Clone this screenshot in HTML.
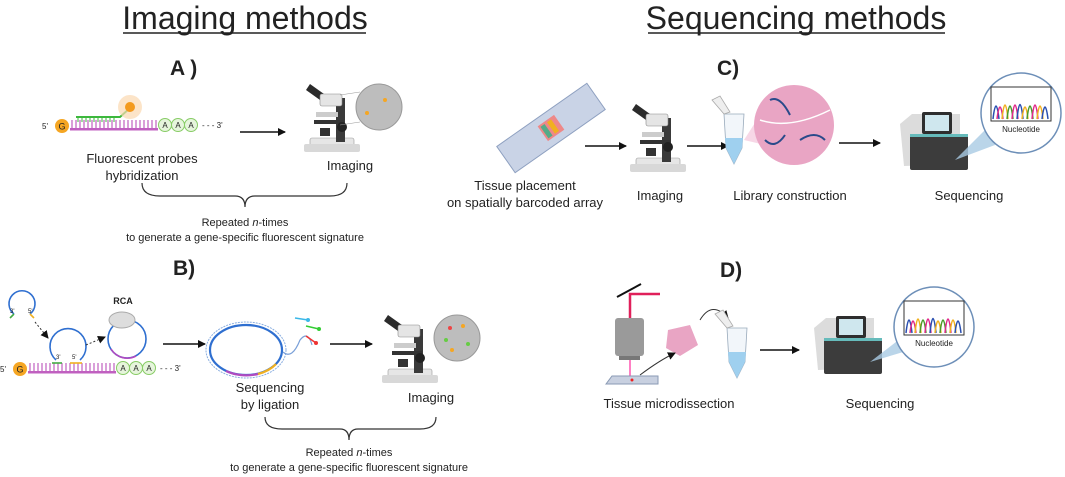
<!DOCTYPE html>
<html><head><meta charset="utf-8"><style>
html,body{margin:0;padding:0;background:#fff}
svg{display:block}
text{font-family:"Liberation Sans",Arial,sans-serif;fill:#222}
</style></head><body>
<svg width="1065" height="477" viewBox="0 0 1065 477" xmlns="http://www.w3.org/2000/svg">
<defs>
<marker id="ah" markerWidth="8" markerHeight="8" refX="7" refY="4" orient="auto" markerUnits="userSpaceOnUse"><path d="M0,0 L8,4 L0,8 z" fill="#111"/></marker>
<g id="scope">
  <rect x="8" y="58" width="44" height="10" rx="2" fill="#e6e6e6" stroke="#999" stroke-width="0.6"/>
  <rect x="2" y="64" width="56" height="8" rx="2" fill="#d8d8d8"/>
  <rect x="34" y="18" width="9" height="44" fill="#3a3a3a"/>
  <rect x="12" y="40" width="30" height="4" fill="#333"/>
  <rect x="14" y="32" width="22" height="5" fill="#ccc"/>
  <path d="M8,4 L22,14 L18,20 L4,10z" fill="#2b2b2b"/>
  <rect x="18" y="14" width="22" height="12" rx="2" fill="#e5e5e5" stroke="#888" stroke-width="0.6"/>
  <circle cx="40" cy="47" r="5" fill="#222"/>
  <rect x="18" y="48" width="10" height="8" fill="#333"/>
</g>
<g id="seq">
  <path d="M0,12 L12,2 L60,2 L60,52 L4,54 Z" fill="#dcdcdc"/>
  <rect x="22" y="0" width="30" height="22" rx="2" fill="#2e2e2e"/>
  <rect x="25" y="3" width="24" height="16" fill="#cfe7ee"/>
  <rect x="10" y="22" width="58" height="36" rx="2" fill="#3c3c3c"/>
  <rect x="10" y="22" width="58" height="3" fill="#6bb"/>
</g>
<g id="chart">
  <circle cx="0" cy="0" r="40" fill="#fff" stroke="#6d8fb8" stroke-width="1.5"/>
  <rect x="-30" y="-26" width="60" height="34" fill="#fff" stroke="#333" stroke-width="1"/>
  <path d="M-28,6 Q-25,-20 -22,6" stroke="#2a4fb0" stroke-width="1.5" fill="none"/>
  <path d="M-24,6 Q-21,-18 -18,6" stroke="#e02a8a" stroke-width="1.5" fill="none"/>
  <path d="M-19,6 Q-16,-22 -13,6" stroke="#f0b020" stroke-width="1.5" fill="none"/>
  <path d="M-14,6 Q-11,-20 -8,6" stroke="#4a9a2a" stroke-width="1.5" fill="none"/>
  <path d="M-9,6 Q-6,-22 -3,6" stroke="#e02a8a" stroke-width="1.5" fill="none"/>
  <path d="M-4,6 Q-1,-23 2,6" stroke="#2a4fb0" stroke-width="1.5" fill="none"/>
  <path d="M1,6 Q4,-18 7,6" stroke="#f0b020" stroke-width="1.5" fill="none"/>
  <path d="M6,6 Q9,-20 12,6" stroke="#4a9a2a" stroke-width="1.5" fill="none"/>
  <path d="M11,6 Q14,-22 17,6" stroke="#e02a8a" stroke-width="1.5" fill="none"/>
  <path d="M16,6 Q19,-20 22,6" stroke="#f0b020" stroke-width="1.5" fill="none"/>
  <path d="M21,6 Q24,-18 27,6" stroke="#2a4fb0" stroke-width="1.5" fill="none"/>
  <text x="0" y="19" font-size="8" text-anchor="middle">Nucleotide</text>
</g>
<g id="tube">
  <path d="M0,10 L20,10 L18,44 L10,60 L2,44 Z" fill="#f2f6fa" stroke="#9ab" stroke-width="0.8"/>
  <path d="M1,34 L19,34 L18,44 L10,60 L2,44 Z" fill="#9fd0ef"/>
  <path d="M-12,-4 L-4,-8 L6,8 L0,10z" fill="#eee" stroke="#aaa" stroke-width="0.8"/>
</g>
<g id="dna">
  <circle cx="0" cy="0" r="7" fill="#f5a623"/><text x="0" y="3.5" font-size="9" text-anchor="middle" fill="#7a4a00">G</text>
  <text x="-20" y="3" font-size="8">5'</text>
  <rect x="8" y="2" width="88" height="2.5" fill="#c060c0"/>
  <path d="M10,2 V-6 M14,2 V-6 M18,2 V-6 M22,2 V-6 M26,2 V-6 M30,2 V-6 M34,2 V-6 M38,2 V-6 M42,2 V-6 M46,2 V-6 M50,2 V-6 M54,2 V-6 M58,2 V-6 M62,2 V-6 M66,2 V-6 M70,2 V-6 M74,2 V-6 M78,2 V-6 M82,2 V-6 M86,2 V-6 M90,2 V-6 M94,2 V-6" stroke="#c060c0" stroke-width="1.2"/>
  <circle cx="103" cy="-1" r="6.5" fill="#e6f5dc" stroke="#8c6" stroke-width="1"/><text x="103" y="2" font-size="8" text-anchor="middle" fill="#2a6a2a">A</text>
  <circle cx="116" cy="-1" r="6.5" fill="#e6f5dc" stroke="#8c6" stroke-width="1"/><text x="116" y="2" font-size="8" text-anchor="middle" fill="#2a6a2a">A</text>
  <circle cx="129" cy="-1" r="6.5" fill="#e6f5dc" stroke="#8c6" stroke-width="1"/><text x="129" y="2" font-size="8" text-anchor="middle" fill="#2a6a2a">A</text>
  <text x="140" y="2" font-size="8">- - - 3'</text>
</g>
</defs>

<!-- titles -->
<text x="245" y="29" font-size="32" text-anchor="middle">Imaging methods</text>
<line x1="123" y1="33" x2="366" y2="33" stroke="#222" stroke-width="1.5"/>
<text x="796" y="29" font-size="32" text-anchor="middle">Sequencing methods</text>
<line x1="648" y1="33" x2="945" y2="33" stroke="#222" stroke-width="1.5"/>

<!-- A -->
<text x="170" y="75" font-size="21" font-weight="bold">A )</text>
<use href="#dna" x="62" y="126"/>
<path d="M76,117 H120 L130,108" stroke="#3cb83c" stroke-width="2" fill="none"/>
<path d="M78,117 V122 M82,117 V122 M86,117 V122 M90,117 V122 M94,117 V122 M98,117 V122 M102,117 V122 M106,117 V122 M110,117 V122 M114,117 V122" stroke="#3cb83c" stroke-width="1"/>
<circle cx="130" cy="107" r="12" fill="#fbd9b0" opacity="0.7"/>
<circle cx="130" cy="107" r="5" fill="#f39a1e"/>
<line x1="240" y1="132" x2="285" y2="132" stroke="#111" stroke-width="1.5" marker-end="url(#ah)"/>
<use href="#scope" x="302" y="80"/>
<line x1="340" y1="95" x2="360" y2="92" stroke="#999" stroke-width="0.6"/>
<line x1="340" y1="125" x2="360" y2="122" stroke="#999" stroke-width="0.6"/>
<circle cx="379" cy="107" r="23" fill="#bdbdbd" stroke="#999"/>
<circle cx="385" cy="100" r="2" fill="#f5a623"/><circle cx="367" cy="113" r="2" fill="#f5a623"/>
<text x="142" y="163" font-size="13" text-anchor="middle">Fluorescent probes</text>
<text x="142" y="180" font-size="13" text-anchor="middle">hybridization</text>
<text x="350" y="170" font-size="13" text-anchor="middle">Imaging</text>
<path d="M142,183 Q142,196 160,196 L235,196 Q245,196 245,207 Q245,196 255,196 L330,196 Q347,196 347,183" stroke="#333" stroke-width="1.2" fill="none"/>
<text x="245" y="226" font-size="11" text-anchor="middle">Repeated <tspan font-style="italic">n</tspan>-times</text>
<text x="245" y="241" font-size="11" text-anchor="middle">to generate a gene-specific fluorescent signature</text>

<!-- B -->
<text x="173" y="275" font-size="21" font-weight="bold">B)</text>
<use href="#dna" x="20" y="369"/>
<path d="M14,314 A13,13 0 1 1 30,314" stroke="#2f6fd0" stroke-width="1.6" fill="none"/>
<path d="M14,314 L10,318" stroke="#4a4" stroke-width="1.6"/><path d="M30,314 L34,318" stroke="#f0b020" stroke-width="1.6"/>
<text x="10" y="313" font-size="6">3'</text><text x="28" y="313" font-size="6">5'</text>
<path d="M56,360 A18,18 0 1 1 80,360" stroke="#2f6fd0" stroke-width="1.6" fill="none"/>
<path d="M52,363 H62" stroke="#4a4" stroke-width="1.6"/><path d="M70,363 H82" stroke="#f0b020" stroke-width="1.6"/>
<text x="56" y="359" font-size="6">3'</text><text x="72" y="359" font-size="6">5'</text>
<circle cx="127" cy="339" r="19" stroke="#2f6fd0" stroke-width="1.6" fill="none"/>
<path d="M111,349 A19,19 0 0 0 136,356" stroke="#b04ac0" stroke-width="1.6" fill="none"/>
<ellipse cx="122" cy="320" rx="13" ry="8" fill="#ddd" stroke="#aaa"/>
<text x="123" y="304" font-size="9" font-weight="bold" text-anchor="middle">RCA</text>
<path d="M35,322 L48,338" stroke="#333" stroke-dasharray="2,2" marker-end="url(#ah)"/>
<path d="M86,345 L105,337" stroke="#333" stroke-dasharray="2,2" marker-end="url(#ah)"/>
<line x1="163" y1="344" x2="205" y2="344" stroke="#111" stroke-width="1.5" marker-end="url(#ah)"/>
<ellipse cx="246" cy="350" rx="40" ry="28" stroke="#8aaee0" stroke-width="1" stroke-dasharray="2,1" fill="none"/>
<ellipse cx="246" cy="350" rx="36" ry="25" stroke="#2f6fd0" stroke-width="2.2" fill="none"/>
<path d="M226,371 A36,25 0 0 0 258,374" stroke="#b04ac0" stroke-width="2.2" fill="none"/>
<path d="M258,374 A36,25 0 0 0 276,364" stroke="#f0b020" stroke-width="2.2" fill="none"/>
<path d="M283,352 Q292,360 300,340 Q308,330 312,345" stroke="#7aa0d8" stroke-width="1.2" fill="none"/>
<line x1="295" y1="318" x2="308" y2="320" stroke="#3bb8e8" stroke-width="1.5"/><circle cx="308" cy="320" r="2" fill="#3bb8e8"/>
<line x1="306" y1="326" x2="319" y2="329" stroke="#3c3" stroke-width="1.5"/><circle cx="319" cy="329" r="2" fill="#3c3"/>
<line x1="306" y1="336" x2="316" y2="343" stroke="#e33" stroke-width="1.5"/><circle cx="316" cy="343" r="2" fill="#e33"/>
<line x1="330" y1="344" x2="372" y2="344" stroke="#111" stroke-width="1.5" marker-end="url(#ah)"/>
<use href="#scope" x="380" y="311"/>
<circle cx="457" cy="338" r="23" fill="#bdbdbd" stroke="#999"/>
<circle cx="450" cy="328" r="2" fill="#e44"/><circle cx="463" cy="326" r="2" fill="#f5a623"/><circle cx="446" cy="340" r="2" fill="#6c4"/><circle cx="468" cy="344" r="2" fill="#6c4"/><circle cx="452" cy="350" r="2" fill="#f5a623"/>
<text x="270" y="392" font-size="13" text-anchor="middle">Sequencing</text>
<text x="270" y="409" font-size="13" text-anchor="middle">by ligation</text>
<text x="431" y="402" font-size="13" text-anchor="middle">Imaging</text>
<path d="M265,417 Q265,429 282,429 L340,429 Q349,429 349,440 Q349,429 358,429 L420,429 Q436,429 436,417" stroke="#333" stroke-width="1.2" fill="none"/>
<text x="349" y="456" font-size="11" text-anchor="middle">Repeated <tspan font-style="italic">n</tspan>-times</text>
<text x="349" y="471" font-size="11" text-anchor="middle">to generate a gene-specific fluorescent signature</text>

<!-- C -->
<text x="717" y="75" font-size="21" font-weight="bold">C)</text>
<g transform="translate(551,128) rotate(-35)">
  <rect x="-55" y="-16" width="110" height="32" fill="#c9d3e6" stroke="#8ea0c0"/>
  <rect x="-10" y="-9" width="20" height="18" fill="#e88"/>
  <rect x="-8" y="-7" width="5" height="14" fill="#5a8"/><rect x="0" y="-7" width="5" height="14" fill="#f0b020"/>
</g>
<text x="525" y="190" font-size="13" text-anchor="middle">Tissue placement</text>
<text x="525" y="207" font-size="13" text-anchor="middle">on spatially barcoded array</text>
<line x1="585" y1="146" x2="626" y2="146" stroke="#111" stroke-width="1.5" marker-end="url(#ah)"/>
<use href="#scope" x="628" y="100"/>
<text x="660" y="200" font-size="13" text-anchor="middle">Imaging</text>
<line x1="687" y1="146" x2="728" y2="146" stroke="#111" stroke-width="1.5" marker-end="url(#ah)"/>
<use href="#tube" x="724" y="104"/>
<path d="M744,140 L760,115 L765,145z" fill="#f3c6dc" opacity="0.7"/>
<circle cx="794" cy="125" r="40" fill="#e9a5c4"/>
<path d="M770,100 Q780,95 790,115 M800,140 Q815,130 825,140 M765,140 Q775,150 785,135" stroke="#2a4a8a" stroke-width="2" fill="none"/>
<path d="M760,120 Q790,130 830,110" stroke="#fff" stroke-width="1.5" fill="none"/>
<text x="790" y="200" font-size="13" text-anchor="middle">Library construction</text>
<line x1="839" y1="143" x2="880" y2="143" stroke="#111" stroke-width="1.5" marker-end="url(#ah)"/>
<use href="#seq" x="900" y="112"/>
<path d="M955,160 L990,125 L995,145z" fill="#a9cbe3" opacity="0.8"/>
<use href="#chart" x="1021" y="113"/>
<text x="969" y="200" font-size="13" text-anchor="middle">Sequencing</text>

<!-- D -->
<text x="720" y="277" font-size="21" font-weight="bold">D)</text>
<line x1="617" y1="297" x2="641" y2="284" stroke="#111" stroke-width="2"/>
<path d="M630,318 V294 H660" stroke="#e0205a" stroke-width="2.5" fill="none"/>
<rect x="615" y="318" width="29" height="38" rx="3" fill="#9a9a9a"/>
<rect x="619" y="356" width="21" height="4" fill="#777"/>
<line x1="630" y1="360" x2="630" y2="378" stroke="#f08" stroke-width="1"/>
<path d="M606,384 L612,376 L658,376 L658,384z" fill="#c8d0e0" stroke="#8a9ab4"/>
<circle cx="632" cy="380" r="1.5" fill="#e22"/>
<path d="M668,330 L690,325 L698,345 L680,356 L666,348z" fill="#e9a5c4"/>
<path d="M640,375 Q660,360 675,353" stroke="#333" fill="none" marker-end="url(#ah)"/>
<path d="M700,320 Q712,300 728,318" stroke="#333" fill="none" marker-end="url(#ah)"/>
<use href="#tube" x="727" y="318"/>
<text x="669" y="408" font-size="13" text-anchor="middle">Tissue microdissection</text>
<line x1="760" y1="350" x2="799" y2="350" stroke="#111" stroke-width="1.5" marker-end="url(#ah)"/>
<use href="#seq" x="814" y="316"/>
<path d="M870,362 L905,335 L910,350z" fill="#a9cbe3" opacity="0.8"/>
<use href="#chart" x="934" y="327"/>
<text x="880" y="408" font-size="13" text-anchor="middle">Sequencing</text>
</svg>
</body></html>
